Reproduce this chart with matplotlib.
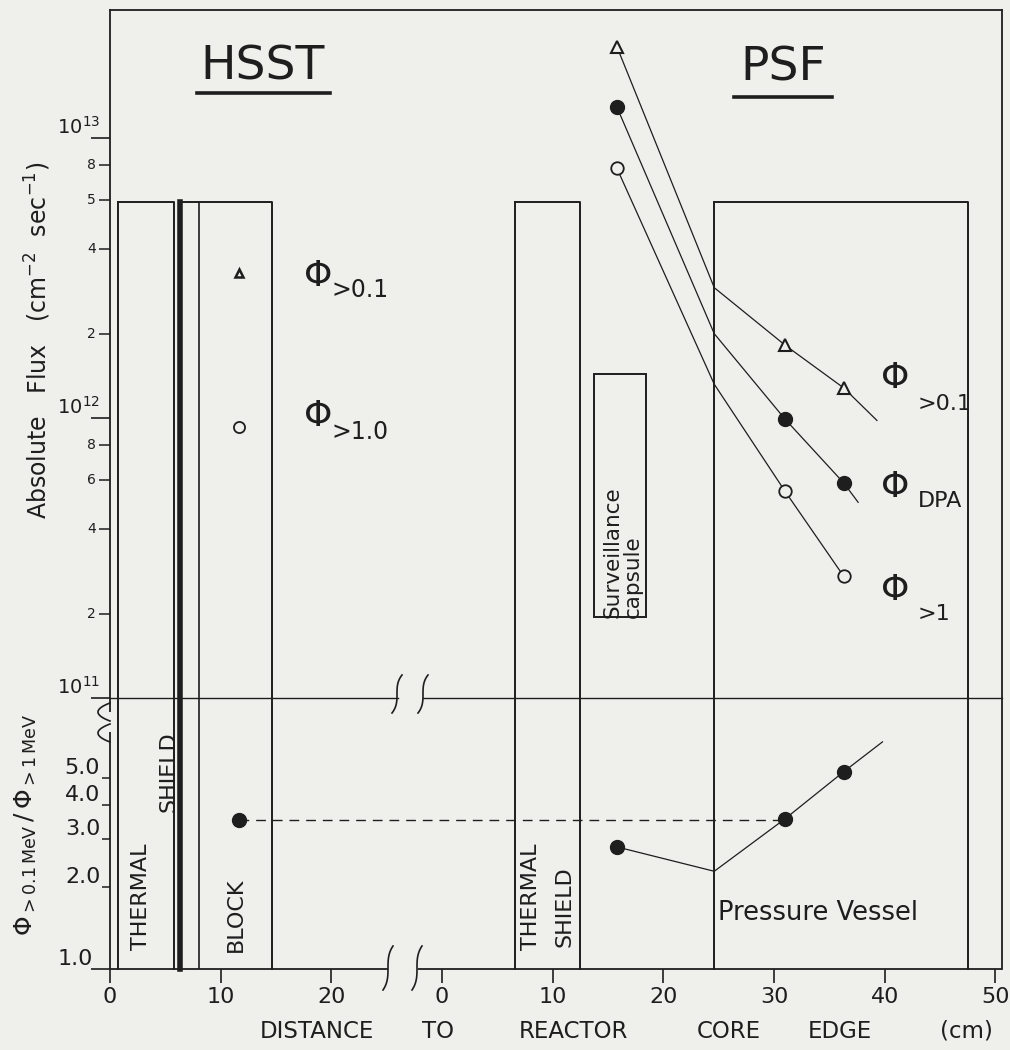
import numpy as np
import matplotlib
matplotlib.use("Agg")
import matplotlib.pyplot as plt
from matplotlib.ticker import FixedLocator, FixedFormatter
from matplotlib.patches import Rectangle

plt.rcParams['font.family'] = ['DejaVu Sans']
plt.rcParams['mathtext.fontset'] = 'dejavusans'

# ---------------- data ----------------
hsst_tick_values = [0, 10, 20]
psf_tick_values = [0, 10, 20, 30, 40, 50]

flux_major = [1e11, 1e12, 1e13]
flux_major_labels = [r'$10^{11}$', r'$10^{12}$', r'$10^{13}$']
flux_minor = [2e11, 4e11, 6e11, 8e11, 2e12, 4e12, 6e12, 8e12]
flux_minor_labels = ['2', '4', '6', '8', '2', '4', '5', '8']
ratio_major = [1.0]
ratio_major_labels = ['1.0']
ratio_minor = [2.0, 3.0, 4.0, 5.0]
ratio_minor_labels = ['2.0', '3.0', '4.0', '5.0']

# HSST measurement (distance in cm)
hsst_dist = [11.7]
hsst_flux_gt01 = [3.3e12]
hsst_flux_gt1 = [9.3e11]
hsst_ratio = [3.5]

# PSF measurements
psf_dist = [15.8, 31.0, 36.3]
psf_flux_gt01 = [2.12e13, 1.82e12, 1.28e12]
psf_flux_dpa = [1.29e13, 9.9e11, 5.86e11]
psf_flux_gt1 = [7.8e12, 5.47e11, 2.72e11]
psf_ratio = [2.8, 3.55, 5.28]

# PSF drawn curves
psf_gt01_line_x = [15.8, 24.6, 31.0, 36.3, 39.3]
psf_gt01_line_y = [2.12e13, 2.92e12, 1.82e12, 1.28e12, 9.8e11]
psf_dpa_line_x = [15.8, 24.6, 31.0, 36.3, 37.6]
psf_dpa_line_y = [1.29e13, 2.0e12, 9.9e11, 5.86e11, 5.0e11]
psf_gt1_line_x = [15.8, 24.6, 31.0, 36.3]
psf_gt1_line_y = [7.8e12, 1.32e12, 5.47e11, 2.72e11]
psf_ratio_line_x = [15.8, 24.6, 31.0, 36.3, 39.8]
psf_ratio_line_y = [2.8, 2.28, 3.55, 5.28, 6.79]

# structures (cm)
hsst_shield = [0.7, 5.8]
hsst_block = [6.3, 14.6]
hsst_block_inner = 8.0
psf_shield = [6.6, 12.5]
psf_capsule = [13.7, 18.4]
psf_capsule_flux = [1.94e11, 1.43e12]
psf_vessel = [24.6, 47.5]
structure_top_flux = 5.9e12

# ---------------- layout ----------------
PSF_OFFSET = 30.0
XMAX = 80.6
FLUX_LIM = (1e11, 10 ** 13.457)
RATIO_LIM = (1.0, 9.83)
INK = '#1e1e1e'
BG = '#efefec'

def psf(v):
    return [x + PSF_OFFSET for x in np.atleast_1d(v)]

fig = plt.figure(figsize=(10.10, 10.50), dpi=100)
fig.patch.set_facecolor(BG)
W, H = 1010.0, 1050.0
ax_lo = fig.add_axes([110 / W, 81 / H, 892 / W, 271 / H])
ax_up = fig.add_axes([110 / W, 352 / H, 892 / W, 688 / H])
for ax in (ax_lo, ax_up):
    ax.set_facecolor(BG)
    ax.set_xlim(0, XMAX)
    for s in ax.spines.values():
        s.set_color(INK)
        s.set_linewidth(1.3)

# upper axis
ax_up.set_yscale('log')
ax_up.set_ylim(*FLUX_LIM)
ax_up.yaxis.set_major_locator(FixedLocator(flux_major))
ax_up.yaxis.set_major_formatter(FixedFormatter(flux_major_labels))
ax_up.yaxis.set_minor_locator(FixedLocator(flux_minor))
ax_up.yaxis.set_minor_formatter(FixedFormatter(flux_minor_labels))
ax_up.tick_params(axis='y', which='major', direction='out', length=14, width=1.2,
                  labelsize=14, pad=-7, colors=INK)
ax_up.tick_params(axis='y', which='minor', direction='out', length=8, width=1.1,
                  labelsize=10, pad=2, colors=INK)
ax_up.set_xticks([])
ax_up.spines['bottom'].set_visible(False)
for t in ax_up.yaxis.get_major_ticks():
    t.label1.set_verticalalignment('bottom')
for t in ax_up.yaxis.get_minor_ticks():
    t.label1.set_verticalalignment('center')

# lower axis
ax_lo.set_yscale('log')
ax_lo.set_ylim(*RATIO_LIM)
ax_lo.yaxis.set_major_locator(FixedLocator(ratio_major))
ax_lo.yaxis.set_major_formatter(FixedFormatter(ratio_major_labels))
ax_lo.yaxis.set_minor_locator(FixedLocator(ratio_minor))
ax_lo.yaxis.set_minor_formatter(FixedFormatter(ratio_minor_labels))
ax_lo.tick_params(axis='y', which='major', direction='out', length=14, width=1.2,
                  labelsize=16, pad=-2, colors=INK)
ax_lo.tick_params(axis='y', which='minor', direction='out', length=6, width=1.1,
                  labelsize=16, pad=1, colors=INK)
for t in ax_lo.yaxis.get_major_ticks() + ax_lo.yaxis.get_minor_ticks():
    t.label1.set_verticalalignment('bottom')
xt = list(hsst_tick_values) + psf(psf_tick_values)
xl = [str(v) for v in hsst_tick_values] + [str(v) for v in psf_tick_values]
ax_lo.set_xticks(xt)
ax_lo.set_xticklabels(xl)
ax_lo.tick_params(axis='x', direction='out', length=10, width=1.2, labelsize=16,
                  pad=3, colors=INK)
for s in ('top', 'left', 'bottom'):
    ax_lo.spines[s].set_visible(False)

# manual frame pieces with breaks
lk = dict(color=INK, lw=1.3, clip_on=False, solid_capstyle='butt')
ax_lo.plot([0, 0], [RATIO_LIM[0], 7.4], **lk)
ax_lo.plot([0, 0], [8.7, RATIO_LIM[1]], **lk)
ax_lo.plot([0, 25.1], [1, 1], **lk)
ax_lo.plot([27.8, XMAX], [1, 1], **lk)
ax_up.plot([0, 26.0], [FLUX_LIM[0]] * 2, color=INK, lw=1.0, clip_on=False)
ax_up.plot([28.3, XMAX], [FLUX_LIM[0]] * 2, color=INK, lw=1.0, clip_on=False)

# structures spanning both panels
def box(x0, x1, lw=1.4, lw_left=None):
    top = structure_top_flux
    ax_lo.plot([x0, x0], RATIO_LIM, color=INK, lw=lw_left or lw, clip_on=False)
    ax_lo.plot([x1, x1], RATIO_LIM, color=INK, lw=lw, clip_on=False)
    ax_up.plot([x0, x0], [FLUX_LIM[0], top], color=INK, lw=lw_left or lw)
    ax_up.plot([x0, x1, x1], [top, top, FLUX_LIM[0]], color=INK, lw=lw)

box(hsst_shield[0], hsst_shield[1])
box(hsst_block[0], hsst_block[1], lw_left=4.0)
ax_lo.plot([hsst_block_inner] * 2, RATIO_LIM, color=INK, lw=1.2)
ax_up.plot([hsst_block_inner] * 2, [FLUX_LIM[0], structure_top_flux], color=INK, lw=1.2)
box(*psf(psf_shield))
box(*psf(psf_vessel))
cx = psf(psf_capsule)
ax_up.add_patch(Rectangle((cx[0], psf_capsule_flux[0]), cx[1] - cx[0],
                          psf_capsule_flux[1] - psf_capsule_flux[0],
                          fill=False, ec=INK, lw=1.4))

# measurements: HSST
ax_up.plot(hsst_dist, hsst_flux_gt01, ls='none', marker='^', ms=6, mfc='none',
           mec=INK, mew=1.8)
ax_up.plot(hsst_dist, hsst_flux_gt1, ls='none', marker='o', ms=8, mfc='none',
           mec=INK, mew=1.3)
ax_lo.plot(hsst_dist, hsst_ratio, ls='none', marker='o', ms=10, color=INK)
ax_lo.plot([hsst_dist[0], psf(psf_dist[1])[0]], [hsst_ratio[0]] * 2, color=INK,
           lw=1.0, ls=(0, (7, 5)))

# measurements: PSF
lw_d = 0.9
ax_up.plot(psf(psf_gt01_line_x), psf_gt01_line_y, color=INK, lw=lw_d)
ax_up.plot(psf(psf_dpa_line_x), psf_dpa_line_y, color=INK, lw=lw_d)
ax_up.plot(psf(psf_gt1_line_x), psf_gt1_line_y, color=INK, lw=lw_d)
ax_up.plot(psf(psf_dist), psf_flux_gt01, ls='none', marker='^', ms=8, mfc=BG,
           mec=INK, mew=1.5, clip_on=False)
ax_up.plot(psf(psf_dist), psf_flux_dpa, ls='none', marker='o', ms=10, color=INK)
ax_up.plot(psf(psf_dist), psf_flux_gt1, ls='none', marker='o', ms=9, mfc=BG,
           mec=INK, mew=1.3)
ax_lo.plot(psf(psf_ratio_line_x), psf_ratio_line_y, color=INK, lw=lw_d)
ax_lo.plot(psf(psf_dist), psf_ratio, ls='none', marker='o', ms=10, color=INK)

# ---------------- overlay annotations (pixel coords) ----------------
ov = fig.add_axes([0, 0, 1, 1], zorder=10)
ov.set_xlim(0, W)
ov.set_ylim(H, 0)
ov.axis('off')
ov.patch.set_alpha(0)

def integral(xc, yc, w, h):
    t = np.linspace(-1, 1, 60)
    ov.plot(xc - w * t ** 3, yc + h * t, color=INK, lw=1.2)

def paren(xs, yc, w, h):
    t = np.linspace(-1, 1, 60)
    ov.plot(xs - w * (1 - t ** 2), yc + h * t, color=INK, lw=1.2)

integral(397, 694, 5, 19)
integral(423, 694, 5, 19)
integral(388, 968, 5, 22)
integral(417, 968, 5, 22)
paren(110, 712, 12, 9)
paren(110, 733, 12, 9)

ov.text(263, 67, 'HSST', fontsize=34, ha='center', va='center', color=INK)
ov.plot([197, 330], [93, 93], color=INK, lw=2.6)
ov.text(783, 68, 'PSF', fontsize=34, ha='center', va='center', color=INK)
ov.plot([734, 832], [97, 97], color=INK, lw=2.6)

def phi(x, y, sub, dx, dy, fs=26, sfs=17):
    ov.text(x, y, r'$\Phi$', fontsize=fs, ha='left', va='center', color=INK)
    ov.text(x + dx, y + dy, sub, fontsize=sfs, ha='left', va='center', color=INK)

phi(303, 276, '>0.1', 28, 14)
phi(303, 416, '>1.0', 28, 16)
phi(880, 378, '>0.1', 38, 26, sfs=16)
phi(880, 487, 'DPA', 38, 14, sfs=16)
phi(880, 590, '>1', 38, 24, sfs=16)

ov.text(718, 913, 'Pressure Vessel', fontsize=18.5, ha='left', va='center', color=INK)
ov.text(613, 618, 'Surveillance', fontsize=15.5, rotation=90, ha='center', va='bottom', color=INK)
ov.text(633, 618, 'capsule', fontsize=15.5, rotation=90, ha='center', va='bottom', color=INK)
ov.text(141, 897, 'THERMAL', fontsize=16, rotation=90, ha='center', va='center', color=INK)
ov.text(169, 772, 'SHIELD', fontsize=16, rotation=90, ha='center', va='center', color=INK)
ov.text(236, 915, 'BLOCK', fontsize=16, rotation=90, ha='center', va='center', color=INK)
ov.text(531, 897, 'THERMAL', fontsize=16, rotation=90, ha='center', va='center', color=INK)
ov.text(564, 907, 'SHIELD', fontsize=16, rotation=90, ha='center', va='center', color=INK)

for word, xc in [('DISTANCE', 317), ('TO', 438), ('REACTOR', 573), ('CORE', 729),
                 ('EDGE', 840), ('(cm)', 966)]:
    ov.text(xc, 1031, word, fontsize=16.5, ha='center', va='center', color=INK)

ov.text(38, 340, r'Absolute   Flux   (cm$^{-2}$  sec$^{-1}$)', fontsize=17, rotation=90,
        ha='center', va='center', color=INK)
ov.text(26, 825, r'$\Phi_{>0.1\,\mathrm{MeV}}\,/\,\Phi_{>1\,\mathrm{MeV}}$', fontsize=18,
        rotation=90, ha='center', va='center', color=INK)

fig.savefig('out.png', dpi=100, facecolor=BG)
